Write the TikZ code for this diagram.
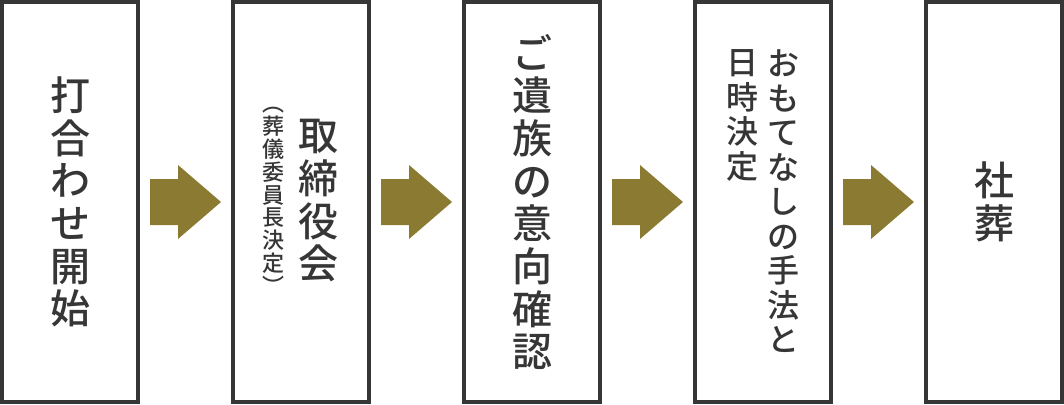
\documentclass[tikz,border=0pt]{standalone}
\usepackage{fontspec}
\newfontfamily\jp{Noto Sans CJK JP Medium}
\definecolor{boxgray}{HTML}{363636}
\definecolor{arrowolive}{HTML}{8B7A31}
\tikzset{
    stepbox/.style = {draw=boxgray, line width=3pt, fill=white, minimum width=102pt, minimum height=300pt, inner sep=0pt},
    bigtext/.style = {text=boxgray, align=center, inner sep=0pt, font=\jp\fontsize{30}{32}\selectfont},
    midtext/.style = {text=boxgray, align=center, inner sep=0pt, font=\jp\fontsize{24}{25.9}\selectfont},
    smalltext/.style = {text=boxgray, align=center, inner sep=0pt, font=\jp\fontsize{16.5}{17.1}\selectfont},
    arrowfill/.style = {fill=arrowolive}
}
\begin{document}
\begin{tikzpicture}[x=0.75pt,y=0.75pt,yscale=-1,xscale=1]
            \useasboundingbox (0, 0) rectangle (1064, 404);
            %boxes
            \foreach \i in {1, ..., 5} {
                \node[stepbox] (box\i) at ({(\i - 1) * 231 + 70}, 202) {};
            }
            %arrows
            \foreach \i in {0, ..., 3} {
                \fill[arrowfill] (\i * 231 + 150, 179) -- ++(28, 0) -- ++(0, -14) -- ++(43, 37) -- ++(-43, 37) -- ++(0, -14) -- ++(-28, 0) -- cycle;
            }
            %texts
            \node[bigtext] (start) at (box1) {打\\合\\わ\\せ\\開\\始};
            \node[bigtext] (board) at (318.5, 201) {取\\締\\役\\会};
            \node[smalltext] (chair) at (273, 201) {︵\\葬\\儀\\委\\員\\長\\決\\定\\︶};
            \node[bigtext] (wishes) at (532, 202) {ご\\遺\\族\\の\\意\\向\\確\\認};
            \node[midtext] (method) at (783, 201.5) {お\\も\\て\\な\\し\\の\\手\\法\\と};
            \node[midtext, anchor=north] (date) at ([xshift=-30.75pt]method.north) {日\\時\\決\\定};
            \node[bigtext] (funeral) at (box5) {社\\葬};
\end{tikzpicture}
\end{document}
